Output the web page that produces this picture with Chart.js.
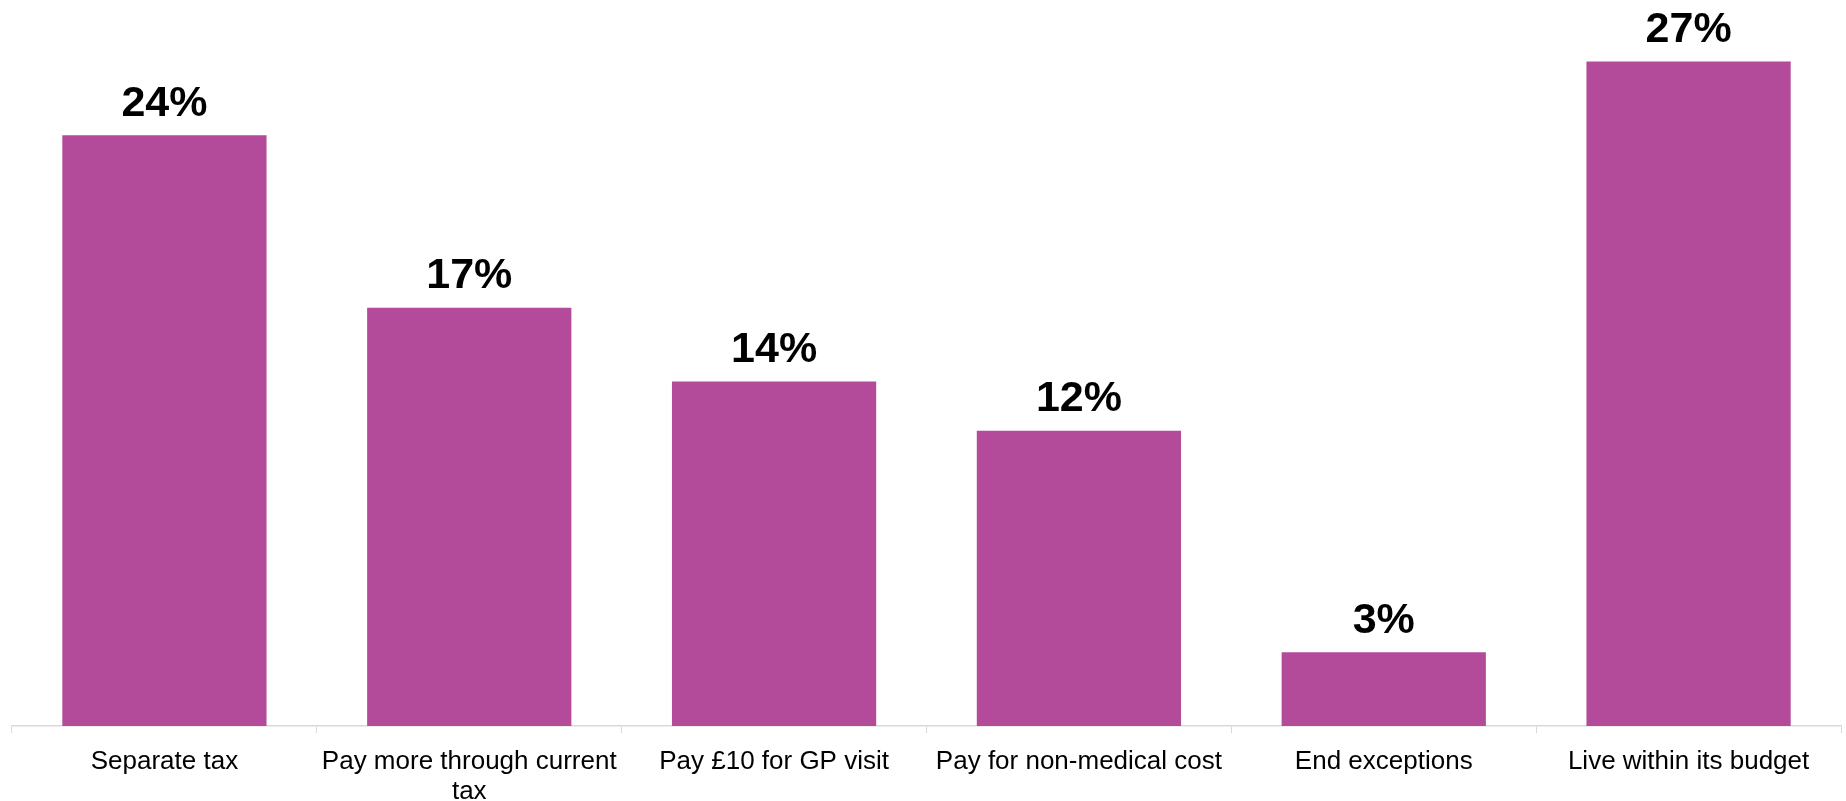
<!DOCTYPE html>
<html>
<head>
<meta charset="utf-8">
<script src="https://cdn.jsdelivr.net/npm/chart.js@4"></script>
<style>
	html, body { margin: 0; padding: 0; background: #fff; }
	#wrap { width: 1846px; height: 801px; }
</style>
</head>
<body>
<div id="wrap"><canvas id="canvas"></canvas></div>
<script>
const categorias = [
	"Separate tax",
	["Pay more through current", "tax"],
	"Pay £10 for GP visit",
	"Pay for non-medical cost",
	"End exceptions",
	"Live within its budget",
];
const valores = [24, 17, 14, 12, 3, 27];
const color_barra = "#b44a9a";

// etiquetas encima de cada barra
const etiquetas = {
	id: "etiquetas",
	afterDatasetsDraw(chart) {
		const ctx = chart.ctx;
		const meta = chart.getDatasetMeta(0);
		ctx.save();
		ctx.font = "bold 43px 'Liberation Sans', Arial, sans-serif";
		ctx.fillStyle = "#000";
		ctx.textAlign = "center";
		ctx.textBaseline = "bottom";
		meta.data.forEach((barra, i) => {
			ctx.fillText(valores[i] + "%", barra.x, barra.y - 10);
		});
		ctx.restore();
	},
};

const canvas = document.getElementById("canvas");

const grafico = new Chart(canvas, {
	type: "bar",
	data: {
		labels: categorias,
		datasets: [
			{
				data: valores,
				backgroundColor: color_barra,
				borderWidth: 0,
				categoryPercentage: 1,
				barPercentage: 0.67,
			},
		],
	},
	options: {
		responsive: true,
		maintainAspectRatio: false,
		animation: false,
		layout: { padding: { left: 12, right: 5, top: 0, bottom: 0 } },
		plugins: {
			legend: { display: false },
			tooltip: { enabled: false },
		},
		scales: {
			x: {
				afterFit: (escala) => {
					escala.height = 75;
				},
				grid: {
					offset: true,
					drawOnChartArea: false,
					tickLength: 7,
					color: "#d9d9d9",
				},
				border: { color: "#d9d9d9", width: 1.5 },
				ticks: {
					color: "#000",
					padding: 14,
					maxRotation: 0,
					autoSkip: false,
					font: { family: "'Liberation Sans', Arial, sans-serif", size: 26, lineHeight: 1.154 },
				},
			},
			y: {
				display: false,
				beginAtZero: true,
				max: 29.5,
			},
		},
	},
	plugins: [etiquetas],
});
</script>
</body>
</html>
